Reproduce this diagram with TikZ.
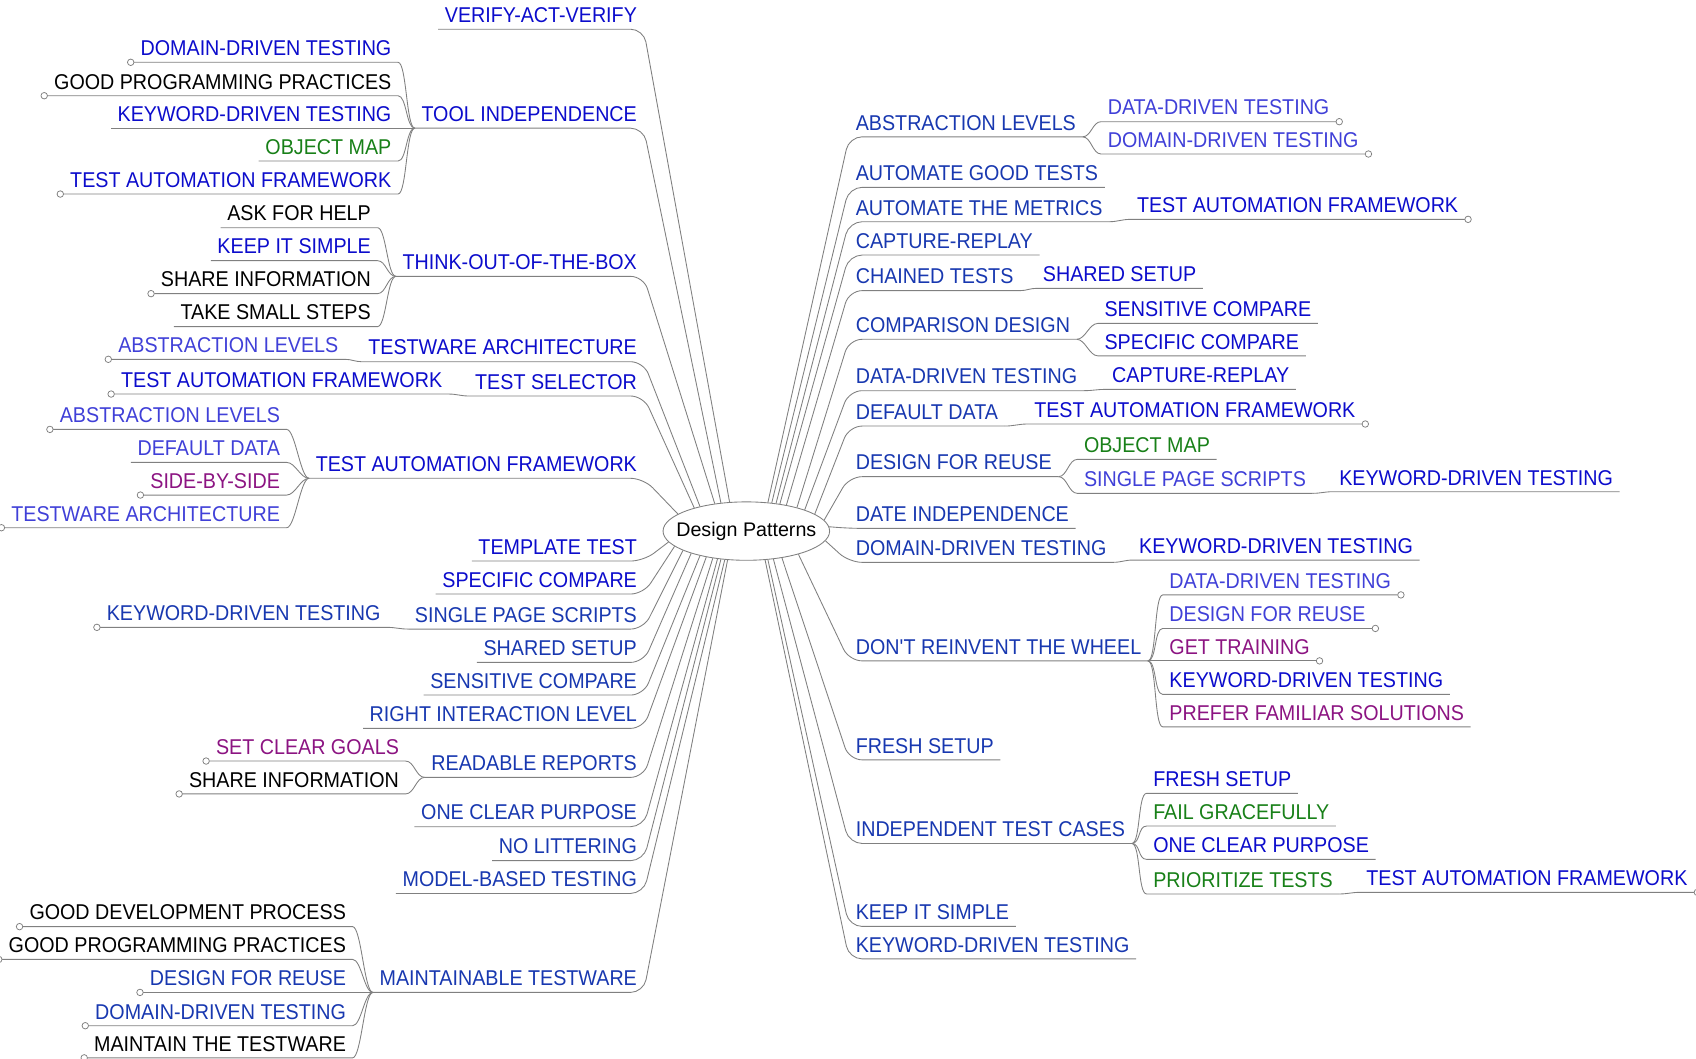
\documentclass[tikz,border=0pt]{standalone}
\usepackage{fontspec}
\setmainfont{Liberation Sans}
\newfontfamily\topicfont{Liberation Sans}[FakeStretch=0.92]
\usetikzlibrary{shapes.geometric}
\definecolor{cA}{RGB}{12,12,204}
\definecolor{cB}{RGB}{24,56,176}
\definecolor{cC}{RGB}{64,64,216}
\definecolor{cG}{RGB}{24,128,24}
\definecolor{cP}{RGB}{140,20,130}
\definecolor{ln}{RGB}{128,128,128}
\begin{document}
\begin{tikzpicture}[x=1pt,y=-1pt,
  t/.style={font=\topicfont\fontsize{19.8}{22}\selectfont, inner xsep=6pt, inner ysep=6pt, text depth=0pt, text height=14pt},
  tl/.style={t, anchor=south east},
  tr/.style={t, anchor=south west},
  conn/.style={draw=ln, line width=0.8pt},
  l1/.style={conn, rounded corners=12pt},
  dot/.style={circle, draw=ln, fill=white, line width=0.7pt, minimum size=6pt, inner sep=0pt},
]
\fill[white] (0,0) rectangle (1568,979);
\useasboundingbox (0,0) rectangle (1568,979);

\node[ellipse, draw=ln, line width=0.8pt, minimum width=154pt, minimum height=54pt, inner sep=0pt, font=\fontsize{18.2}{20}\selectfont] (c) at (690,491) {\makebox[0pt]{Design Patterns}};

% ---------------- left level 1 ----------------
\node[tl,text=cA] (Lverify) at (595,27) {VERIFY-ACT-VERIFY};
\node[tl,text=cA] (Ltool) at (595,118.5) {TOOL INDEPENDENCE};
\node[tl,text=cA] (Lthink) at (595,255.5) {THINK-OUT-OF-THE-BOX};
\node[tl,text=cA] (Ltwa) at (595,334.4) {TESTWARE ARCHITECTURE};
\node[tl,text=cA] (Lsel) at (595,366.1) {TEST SELECTOR};
\node[tl,text=cA] (Ltaf) at (595,442.2) {TEST AUTOMATION FRAMEWORK};
\node[tl,text=cA] (Ltmpl) at (595,518.7) {TEMPLATE TEST};
\node[tl,text=cA] (Lspec) at (595,549.2) {SPECIFIC COMPARE};
\node[tl,text=cB] (Lsps) at (595,581.6) {SINGLE PAGE SCRIPTS};
\node[tl,text=cB] (Lshared) at (595,612.4) {SHARED SETUP};
\node[tl,text=cB] (Lsens) at (595,642.6) {SENSITIVE COMPARE};
\node[tl,text=cB] (Lril) at (595,673.4) {RIGHT INTERACTION LEVEL};
\node[tl,text=cB] (Lread) at (595,718.7) {READABLE REPORTS};
\node[tl,text=cB] (Lone) at (595,764.3) {ONE CLEAR PURPOSE};
\node[tl,text=cB] (Lnolit) at (595,795.7) {NO LITTERING};
\node[tl,text=cB] (Lmodel) at (595,826) {MODEL-BASED TESTING};
\node[tl,text=cB] (Lmaint) at (595,917.5) {MAINTAINABLE TESTWARE};

\draw[l1] (c.120) -- (Lverify.south east) -- (Lverify.south west);
\draw[l1] (c.132) -- (Ltool.south east) -- (Ltool.south west);
\draw[l1] (c.139) -- (Lthink.south east) -- (Lthink.south west);
\draw[l1] (c.152) -- (Ltwa.south east) -- (Ltwa.south west);
\draw[l1] (c.156) -- (Lsel.south east) -- (Lsel.south west);
\draw[l1] (c.166) -- (Ltaf.south east) -- (Ltaf.south west);
\draw[l1] (c.188) -- (Ltmpl.south east) -- (Ltmpl.south west);
\draw[l1] (c.192) -- (Lspec.south east) -- (Lspec.south west);
\draw[l1] (c.197) -- (Lsps.south east) -- (Lsps.south west);
\draw[l1] (c.202) -- (Lshared.south east) -- (Lshared.south west);
\draw[l1] (c.208) -- (Lsens.south east) -- (Lsens.south west);
\draw[l1] (c.213) -- (Lril.south east) -- (Lril.south west);
\draw[l1] (c.219) -- (Lread.south east) -- (Lread.south west);
\draw[l1] (c.224) -- (Lone.south east) -- (Lone.south west);
\draw[l1] (c.228) -- (Lnolit.south east) -- (Lnolit.south west);
\draw[l1] (c.233) -- (Lmodel.south east) -- (Lmodel.south west);
\draw[l1] (c.237) -- (Lmaint.south east) -- (Lmaint.south west);

% ---------------- left level 2 ----------------
\node[tl,text=cA] (Lt1) at (368,57.6) {DOMAIN-DRIVEN TESTING};
\node[tl,text=black] (Lt2) at (368,88.5) {GOOD PROGRAMMING PRACTICES};
\node[tl,text=cA] (Lt3) at (368,118.5) {KEYWORD-DRIVEN TESTING};
\node[tl,text=cG] (Lt4) at (368,148.9) {OBJECT MAP};
\node[tl,text=cA] (Lt5) at (368,179.4) {TEST AUTOMATION FRAMEWORK};
\foreach \n in {Lt1,Lt2,Lt3,Lt4,Lt5}
  \draw[conn] (Ltool.south west) .. controls +(-8,0) and +(8,0) .. (\n.south east) -- (\n.south west);

\node[tl,text=black] (Lh1) at (349,210.5) {ASK FOR HELP};
\node[tl,text=cA] (Lh2) at (349,241) {KEEP IT SIMPLE};
\node[tl,text=black] (Lh3) at (349,271.5) {SHARE INFORMATION};
\node[tl,text=black] (Lh4) at (349,302) {TAKE SMALL STEPS};
\foreach \n in {Lh1,Lh2,Lh3,Lh4}
  \draw[conn] (Lthink.south west) .. controls +(-8,0) and +(8,0) .. (\n.south east) -- (\n.south west);

\node[tl,text=cC] (Lw1) at (319,332.2) {ABSTRACTION LEVELS};
\draw[conn] (Ltwa.south west) to[out=180,in=0] (Lw1.south east) -- (Lw1.south west);
\node[tl,text=cA] (Ls1) at (415,364.3) {TEST AUTOMATION FRAMEWORK};
\draw[conn] (Lsel.south west) to[out=180,in=0] (Ls1.south east) -- (Ls1.south west);

\node[tl,text=cC] (Lf1) at (265,397) {ABSTRACTION LEVELS};
\node[tl,text=cC] (Lf2) at (265,427.5) {DEFAULT DATA};
\node[tl,text=cP] (Lf3) at (265,457.7) {SIDE-BY-SIDE};
\node[tl,text=cC] (Lf4) at (265,487.9) {TESTWARE ARCHITECTURE};
\foreach \n in {Lf1,Lf2,Lf3,Lf4}
  \draw[conn] (Ltaf.south west) .. controls +(-8,0) and +(8,0) .. (\n.south east) -- (\n.south west);

\node[tl,text=cB] (Lp1) at (358,580) {KEYWORD-DRIVEN TESTING};
\draw[conn] (Lsps.south west) to[out=180,in=0] (Lp1.south east) -- (Lp1.south west);

\node[tl,text=cP] (Lr1) at (375,703.6) {SET CLEAR GOALS};
\node[tl,text=black] (Lr2) at (375,734) {SHARE INFORMATION};
\foreach \n in {Lr1,Lr2}
  \draw[conn] (Lread.south west) .. controls +(-8,0) and +(8,0) .. (\n.south east) -- (\n.south west);

\node[tl,text=black] (Lm1) at (326,856.7) {GOOD DEVELOPMENT PROCESS};
\node[tl,text=black] (Lm2) at (326,887) {GOOD PROGRAMMING PRACTICES};
\node[tl,text=cB] (Lm3) at (326,917.5) {DESIGN FOR REUSE};
\node[tl,text=cB] (Lm4) at (326,948.3) {DOMAIN-DRIVEN TESTING};
\node[tl,text=black] (Lm5) at (326,978) {MAINTAIN THE TESTWARE};
\foreach \n in {Lm1,Lm2,Lm3,Lm4,Lm5}
  \draw[conn] (Lmaint.south west) .. controls +(-8,0) and +(8,0) .. (\n.south east) -- (\n.south west);

% ---------------- right level 1 ----------------
\node[tr,text=cB] (Rabs) at (785,126.5) {ABSTRACTION LEVELS};
\node[tr,text=cB] (Rgood) at (785,173.2) {AUTOMATE GOOD TESTS};
\node[tr,text=cB] (Rmet) at (785,205) {AUTOMATE THE METRICS};
\node[tr,text=cB] (Rcap) at (785,235.8) {CAPTURE-REPLAY};
\node[tr,text=cB] (Rchain) at (785,268.7) {CHAINED TESTS};
\node[tr,text=cB] (Rcomp) at (785,313.7) {COMPARISON DESIGN};
\node[tr,text=cB] (Rdata) at (785,361.2) {DATA-DRIVEN TESTING};
\node[tr,text=cB] (Rdef) at (785,393.9) {DEFAULT DATA};
\node[tr,text=cB] (Rdfr) at (785,440.7) {DESIGN FOR REUSE};
\node[tr,text=cB] (Rdate) at (785,488.5) {DATE INDEPENDENCE};
\node[tr,text=cB] (Rdom) at (785,519.9) {DOMAIN-DRIVEN TESTING};
\node[tr,text=cB] (Rwheel) at (785,611) {DON\textquotesingle T REINVENT THE WHEEL};
\node[tr,text=cB] (Rfresh) at (785,702.5) {FRESH SETUP};
\node[tr,text=cB] (Rind) at (785,779.8) {INDEPENDENT TEST CASES};
\node[tr,text=cB] (Rkeep) at (785,856.5) {KEEP IT SIMPLE};
\node[tr,text=cB] (Rkw) at (785,886.5) {KEYWORD-DRIVEN TESTING};

\draw[l1] (c.53) -- (Rabs.south west) -- (Rabs.south east);
\draw[l1] (c.48) -- (Rgood.south west) -- (Rgood.south east);
\draw[l1] (c.43) -- (Rmet.south west) -- (Rmet.south east);
\draw[l1] (c.39) -- (Rcap.south west) -- (Rcap.south east);
\draw[l1] (c.33) -- (Rchain.south west) -- (Rchain.south east);
\draw[l1] (c.25) -- (Rcomp.south west) -- (Rcomp.south east);
\draw[l1] (c.20) -- (Rdata.south west) -- (Rdata.south east);
\draw[l1] (c.14) -- (Rdef.south west) -- (Rdef.south east);
\draw[l1] (c.8) -- (Rdfr.south west) -- (Rdfr.south east);
\draw[l1] (c.3) -- (Rdate.south west) -- (Rdate.south east);
\draw[l1] (c.353) -- (Rdom.south west) -- (Rdom.south east);
\draw[l1] (c.336) -- (Rwheel.south west) -- (Rwheel.south east);
\draw[l1] (c.323) -- (Rfresh.south west) -- (Rfresh.south east);
\draw[l1] (c.314) -- (Rind.south west) -- (Rind.south east);
\draw[l1] (c.307) -- (Rkeep.south west) -- (Rkeep.south east);
\draw[l1] (c.303) -- (Rkw.south west) -- (Rkw.south east);

% ---------------- right level 2 ----------------
\node[tr,text=cC] (Ra1) at (1018,112.5) {DATA-DRIVEN TESTING};
\node[tr,text=cC] (Ra2) at (1018,142.4) {DOMAIN-DRIVEN TESTING};
\foreach \n in {Ra1,Ra2}
  \draw[conn] (Rabs.south east) .. controls +(8,0) and +(-8,0) .. (\n.south west) -- (\n.south east);

\node[tr,text=cA] (Rm1) at (1045,202.8) {TEST AUTOMATION FRAMEWORK};
\draw[conn] (Rmet.south east) to[out=0,in=180] (Rm1.south west) -- (Rm1.south east);
\node[tr,text=cA] (Rc1) at (958,266.6) {SHARED SETUP};
\draw[conn] (Rchain.south east) to[out=0,in=180] (Rc1.south west) -- (Rc1.south east);

\node[tr,text=cA] (Rp1) at (1015,299) {SENSITIVE COMPARE};
\node[tr,text=cA] (Rp2) at (1015,329) {SPECIFIC COMPARE};
\foreach \n in {Rp1,Rp2}
  \draw[conn] (Rcomp.south east) .. controls +(8,0) and +(-8,0) .. (\n.south west) -- (\n.south east);

\node[tr,text=cA] (Rd1) at (1022,360) {CAPTURE-REPLAY};
\draw[conn] (Rdata.south east) to[out=0,in=180] (Rd1.south west) -- (Rd1.south east);
\node[tr,text=cA] (Rf1) at (950,392) {TEST AUTOMATION FRAMEWORK};
\draw[conn] (Rdef.south east) to[out=0,in=180] (Rf1.south west) -- (Rf1.south east);

\node[tr,text=cG] (Rr1) at (996,424.7) {OBJECT MAP};
\node[tr,text=cC] (Rr2) at (996,456.1) {SINGLE PAGE SCRIPTS};
\foreach \n in {Rr1,Rr2}
  \draw[conn] (Rdfr.south east) .. controls +(8,0) and +(-8,0) .. (\n.south west) -- (\n.south east);
\node[tr,text=cA] (Rr21) at (1232,454.6) {KEYWORD-DRIVEN TESTING};
\draw[conn] (Rr2.south east) to[out=0,in=180] (Rr21.south west) -- (Rr21.south east);

\node[tr,text=cA] (Ro1) at (1047,517.8) {KEYWORD-DRIVEN TESTING};
\draw[conn] (Rdom.south east) to[out=0,in=180] (Ro1.south west) -- (Ro1.south east);

\node[tr,text=cC] (Rw1) at (1075,550) {DATA-DRIVEN TESTING};
\node[tr,text=cC] (Rw2) at (1075,581) {DESIGN FOR REUSE};
\node[tr,text=cP] (Rw3) at (1075,611) {GET TRAINING};
\node[tr,text=cA] (Rw4) at (1075,642) {KEYWORD-DRIVEN TESTING};
\node[tr,text=cP] (Rw5) at (1075,672) {PREFER FAMILIAR SOLUTIONS};
\foreach \n in {Rw1,Rw2,Rw3,Rw4,Rw5}
  \draw[conn] (Rwheel.south east) .. controls +(8,0) and +(-8,0) .. (\n.south west) -- (\n.south east);

\node[tr,text=cA] (Ri1) at (1060,733.5) {FRESH SETUP};
\node[tr,text=cG] (Ri2) at (1060,763.7) {FAIL GRACEFULLY};
\node[tr,text=cA] (Ri3) at (1060,794.5) {ONE CLEAR PURPOSE};
\node[tr,text=cG] (Ri4) at (1060,826.5) {PRIORITIZE TESTS};
\foreach \n in {Ri1,Ri2,Ri3,Ri4}
  \draw[conn] (Rind.south east) .. controls +(8,0) and +(-8,0) .. (\n.south west) -- (\n.south east);
\node[tr,text=cA] (Ri41) at (1257,825) {TEST AUTOMATION FRAMEWORK};
\draw[conn] (Ri4.south east) to[out=0,in=180] (Ri41.south west) -- (Ri41.south east);

% ---------------- collapse markers ----------------
\foreach \n in {Lt1,Lt2,Lt5,Lh3,Lw1,Ls1,Lf1,Lf3,Lf4,Lp1,Lr1,Lr2,Lm1,Lm2,Lm3,Lm4,Lm5}
  \node[dot] at ([xshift=-3pt]\n.south west) {};
\foreach \n in {Ra1,Ra2,Rm1,Rf1,Rw1,Rw2,Rw3,Ri41}
  \node[dot] at ([xshift=3pt]\n.south east) {};
\end{tikzpicture}
\end{document}
